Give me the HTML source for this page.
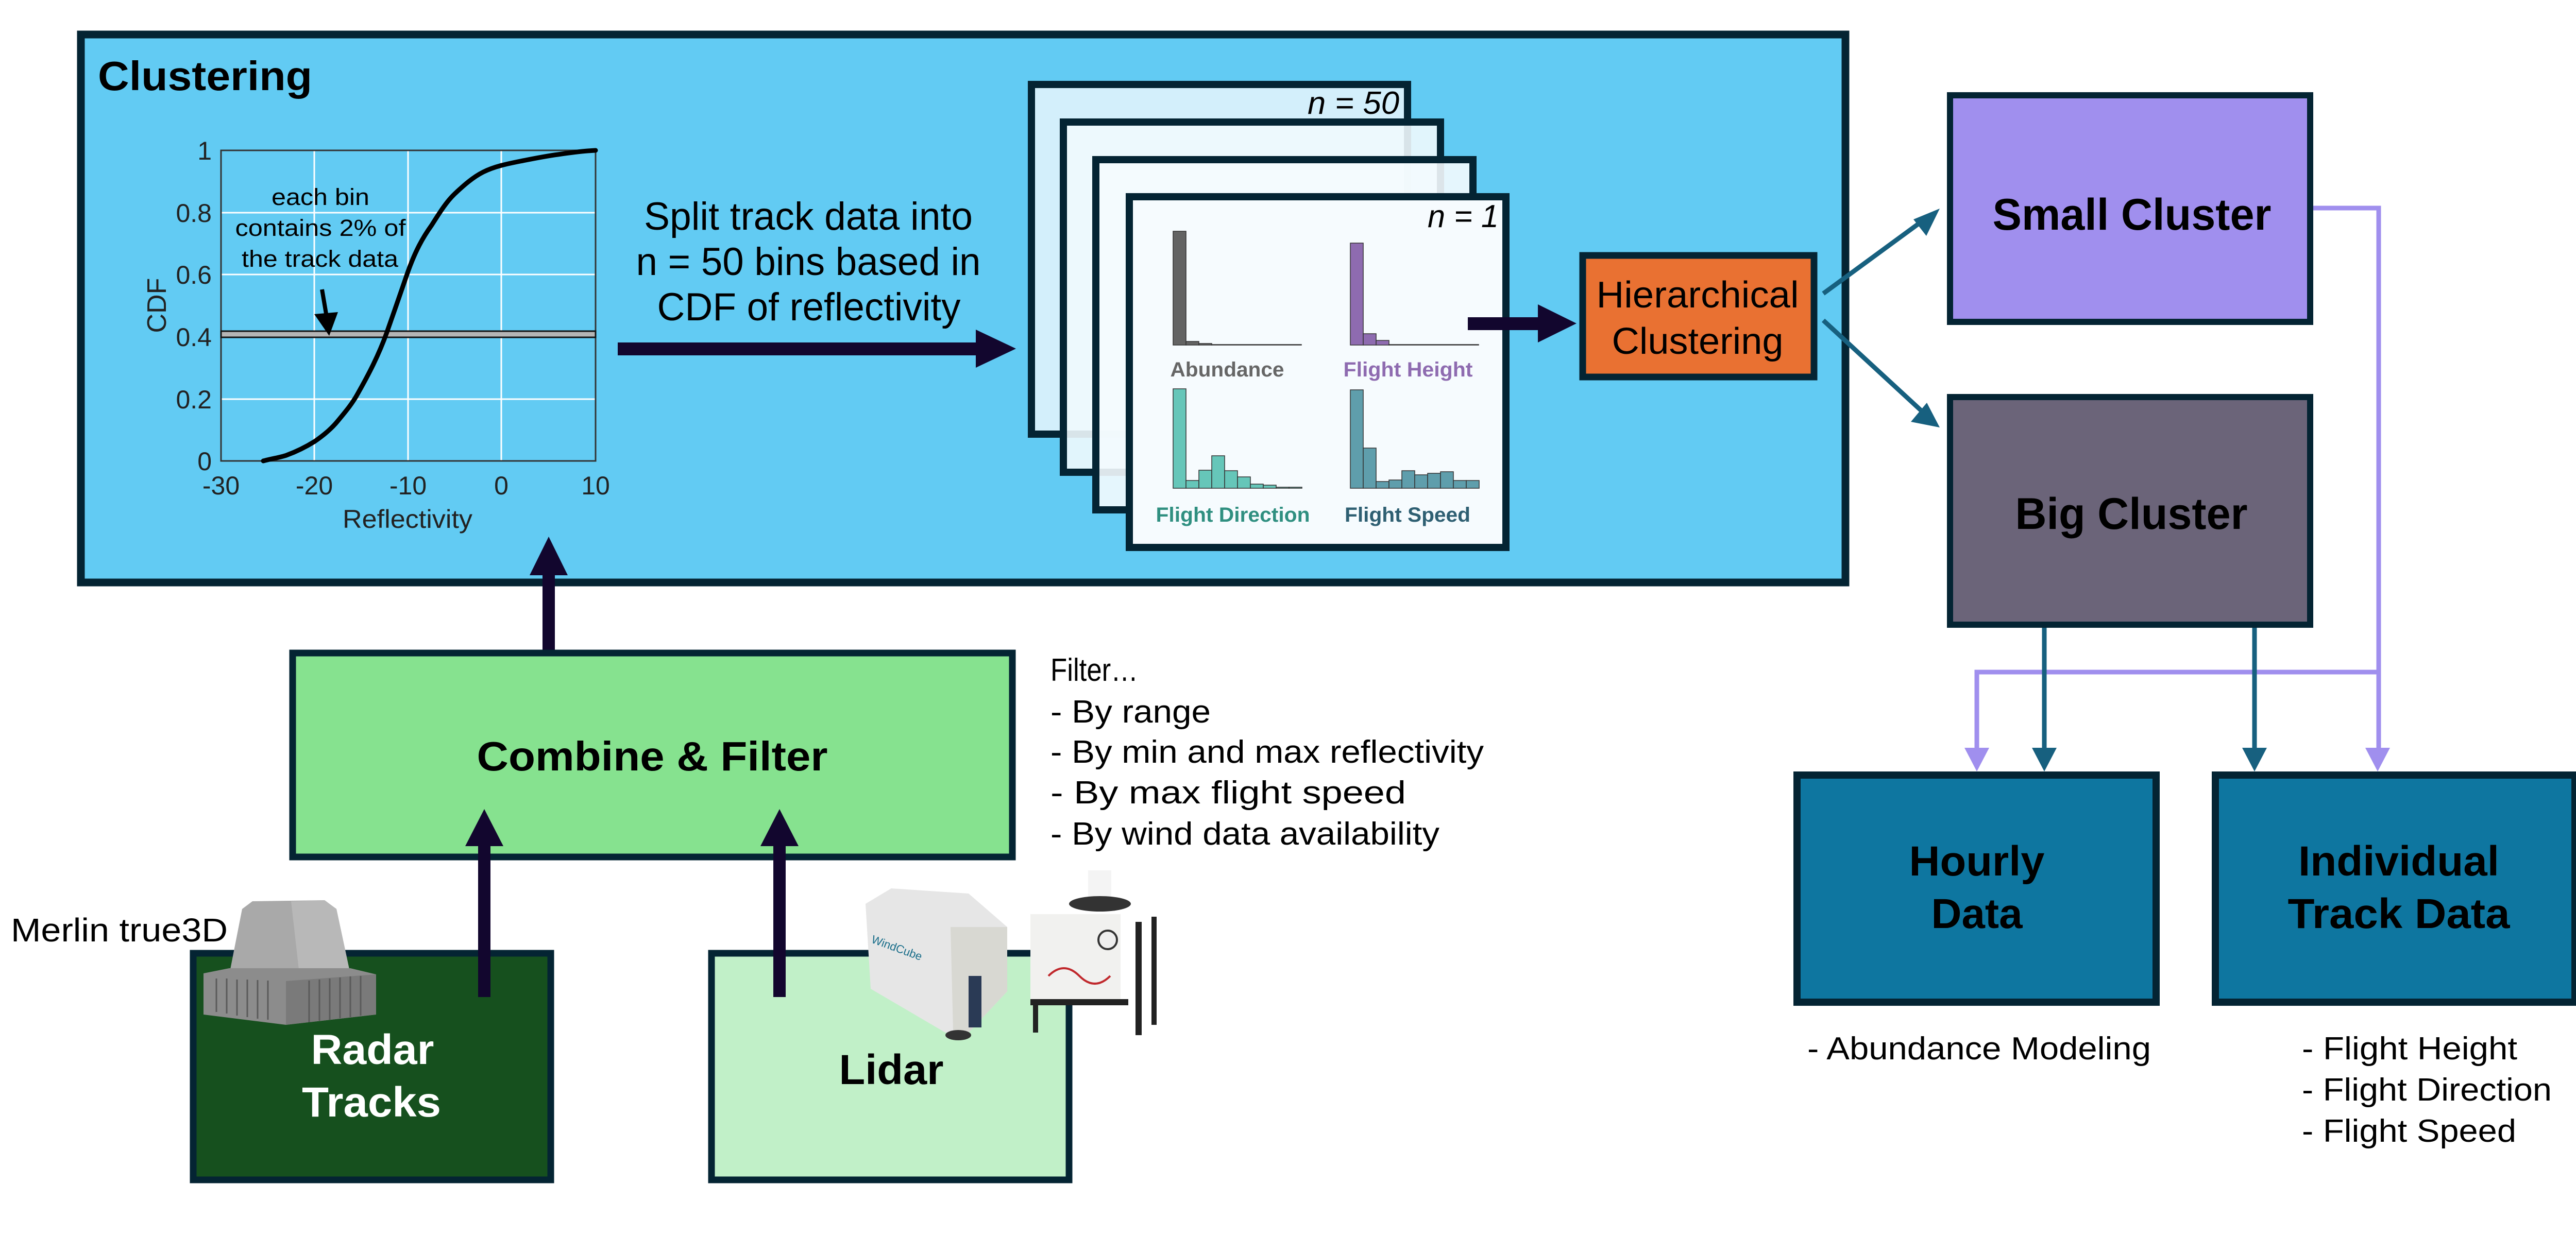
<!DOCTYPE html>
<html><head><meta charset="utf-8"><style>html,body{margin:0;padding:0;background:#fff}svg{display:block}text{font-family:"Liberation Sans",sans-serif}</style></head><body>
<svg width="5100" height="2400" viewBox="0 0 5100 2400" xmlns="http://www.w3.org/2000/svg">
<!-- Clustering box -->
<rect x="157" y="67" width="3425" height="1064" fill="#62cbf3" stroke="#042433" stroke-width="15"/>
<text x="190" y="175" font-size="80" font-weight="bold" textLength="416" lengthAdjust="spacingAndGlyphs">Clustering</text>
<!-- plot -->
<g stroke="#ffffff" stroke-width="3">
<line x1="610" y1="292" x2="610" y2="895"/><line x1="792" y1="292" x2="792" y2="895"/><line x1="973" y1="292" x2="973" y2="895"/>
<line x1="429" y1="413" x2="1156" y2="413"/><line x1="429" y1="533" x2="1156" y2="533"/><line x1="429" y1="775" x2="1156" y2="775"/>
</g>
<rect x="429" y="292" width="727" height="603" fill="none" stroke="#333" stroke-width="3"/>
<rect x="429" y="643" width="727" height="12" fill="#b5b5b5" stroke="#111" stroke-width="3"/>
<g font-size="50" fill="#222" text-anchor="end">
<text x="411" y="310">1</text><text x="411" y="431">0.8</text><text x="411" y="551">0.6</text><text x="411" y="672">0.4</text><text x="411" y="793">0.2</text><text x="411" y="913">0</text>
</g>
<g font-size="50" fill="#222" text-anchor="middle">
<text x="429" y="960">-30</text><text x="610" y="960">-20</text><text x="792" y="960">-10</text><text x="973" y="960">0</text><text x="1156" y="960">10</text>
<text x="791" y="1025" textLength="252" lengthAdjust="spacingAndGlyphs">Reflectivity</text>
</g>
<text transform="translate(322,593) rotate(-90)" font-size="52" fill="#222" text-anchor="middle">CDF</text>
<g font-size="45" text-anchor="middle">
<text x="622" y="398" textLength="190" lengthAdjust="spacingAndGlyphs">each bin</text>
<text x="622" y="458" textLength="331" lengthAdjust="spacingAndGlyphs">contains 2% of</text>
<text x="621" y="518" textLength="304" lengthAdjust="spacingAndGlyphs">the track data</text>
</g>
<line x1="625" y1="562" x2="634" y2="615" stroke="#000" stroke-width="8"/>
<polygon points="610,610 656,606 639,652" fill="#000"/>
<path fill="none" stroke="#000" stroke-width="9" stroke-linecap="round" stroke-linejoin="round" d="M511,895 C530,890 545,888 556,884 C575,877 595,867 611,857 C628,845 643,833 656,817 C670,800 683,785 694,765 C715,728 735,690 751,645 C765,605 778,568 792,527 C806,488 820,462 838,437 C855,410 868,390 883,376 C900,360 918,344 938,334 C960,323 985,318 1010,313 C1035,308 1060,303 1083,300 C1110,296 1135,293 1156,292"/>
<!-- split text + arrow -->
<g font-size="76" text-anchor="middle">
<text x="1569" y="446" textLength="638" lengthAdjust="spacingAndGlyphs">Split track data into</text>
<text x="1569" y="534" textLength="669" lengthAdjust="spacingAndGlyphs">n = 50 bins based in</text>
<text x="1570" y="622" textLength="589" lengthAdjust="spacingAndGlyphs">CDF of reflectivity</text>
</g>
<rect x="1199" y="665" width="700" height="25" fill="#12062e"/>
<polygon points="1894,640 1972,677 1894,714" fill="#12062e"/>
<!-- cards -->
<rect x="2002" y="164" width="730" height="679" fill="#d3effb" stroke="#042433" stroke-width="14"/>
<text x="2716" y="221" font-size="62" font-style="italic" text-anchor="end" textLength="178" lengthAdjust="spacingAndGlyphs">n = 50</text>
<rect x="2064" y="237" width="732" height="680" fill="#f0f9fd" fill-opacity="0.9" stroke="#042433" stroke-width="14"/>
<rect x="2127" y="310" width="732" height="680" fill="#f4fbfe" fill-opacity="0.9" stroke="#042433" stroke-width="14"/>
<rect x="2192" y="382" width="731" height="681" fill="#f6fbfe" stroke="#042433" stroke-width="14"/>
<text x="2909" y="441" font-size="62" font-style="italic" text-anchor="end" textLength="138" lengthAdjust="spacingAndGlyphs">n = 1</text>
<g stroke="#333" stroke-width="1.5">
<g fill="#636363"><rect x="2277" y="449" width="25" height="221"/><rect x="2302" y="663" width="25" height="7"/><rect x="2327" y="667" width="25" height="3"/><rect x="2352" y="669" width="174" height="1"/></g>
<g fill="#8e6bb0"><rect x="2621" y="472" width="25" height="198"/><rect x="2646" y="648" width="25" height="22"/><rect x="2671" y="661" width="25" height="9"/><rect x="2696" y="669" width="174" height="1"/></g>
<g fill="#66c6b9"><rect x="2277" y="755" width="25" height="193"/><rect x="2302" y="933" width="25" height="15"/><rect x="2327" y="913" width="25" height="35"/><rect x="2352" y="885" width="25" height="63"/><rect x="2377" y="914" width="25" height="34"/><rect x="2402" y="926" width="25" height="22"/><rect x="2427" y="940" width="25" height="8"/><rect x="2452" y="942" width="25" height="6"/><rect x="2477" y="946" width="25" height="2"/><rect x="2502" y="946" width="25" height="2"/></g>
<g fill="#5f9eac"><rect x="2621" y="757" width="25" height="191"/><rect x="2646" y="870" width="25" height="78"/><rect x="2671" y="935" width="25" height="13"/><rect x="2696" y="932" width="25" height="16"/><rect x="2721" y="914" width="25" height="34"/><rect x="2746" y="922" width="25" height="26"/><rect x="2771" y="919" width="25" height="29"/><rect x="2796" y="916" width="25" height="32"/><rect x="2821" y="933" width="25" height="15"/><rect x="2846" y="933" width="25" height="15"/></g>
</g>
<g font-size="40" font-weight="bold" text-anchor="middle">
<text x="2382" y="731" fill="#666" textLength="221" lengthAdjust="spacingAndGlyphs">Abundance</text>
<text x="2733" y="731" fill="#8e6bb0" textLength="251" lengthAdjust="spacingAndGlyphs">Flight Height</text>
<text x="2393" y="1013" fill="#2f8f80" textLength="299" lengthAdjust="spacingAndGlyphs">Flight Direction</text>
<text x="2732" y="1013" fill="#2e5f72" textLength="244" lengthAdjust="spacingAndGlyphs">Flight Speed</text>
</g>
<rect x="2849" y="616" width="140" height="25" fill="#12062e"/>
<polygon points="2985,591 3060,628 2985,665" fill="#12062e"/>
<!-- hierarchical -->
<rect x="3072" y="496" width="449" height="236" fill="#e97132" stroke="#042433" stroke-width="13"/>
<g font-size="72" text-anchor="middle">
<text x="3295" y="597" textLength="393" lengthAdjust="spacingAndGlyphs">Hierarchical</text>
<text x="3295" y="687" textLength="333" lengthAdjust="spacingAndGlyphs">Clustering</text>
</g>
<!-- right side -->
<line x1="3539" y1="570" x2="3745" y2="419" stroke="#17607f" stroke-width="9"/>
<polygon points="3765,405 3739,458 3714,426" fill="#17607f"/>
<line x1="3539" y1="622" x2="3745" y2="812" stroke="#17607f" stroke-width="9"/>
<polygon points="3765,830 3709,819 3740,782" fill="#17607f"/>
<rect x="3785" y="185" width="699" height="440" fill="#a08fee" stroke="#042433" stroke-width="12"/>
<text x="4138" y="446" font-size="86" font-weight="bold" text-anchor="middle" textLength="541" lengthAdjust="spacingAndGlyphs">Small Cluster</text>
<rect x="3785" y="771" width="699" height="442" fill="#6b6479" stroke="#042433" stroke-width="12"/>
<text x="4137" y="1027" font-size="86" font-weight="bold" text-anchor="middle" textLength="451" lengthAdjust="spacingAndGlyphs">Big Cluster</text>
<g fill="none" stroke-width="9">
<polyline points="4490,404 4617,404 4617,1460" stroke="#a08fee"/>
<polyline points="4617,1305 3837,1305 3837,1460" stroke="#a08fee"/>
<line x1="3968" y1="1219" x2="3968" y2="1460" stroke="#17607f"/>
<line x1="4376" y1="1219" x2="4376" y2="1460" stroke="#17607f"/>
</g>
<polygon points="3813,1452 3861,1452 3837,1498" fill="#a08fee"/>
<polygon points="4591,1452 4639,1452 4615,1498" fill="#a08fee"/>
<polygon points="3944,1452 3992,1452 3968,1498" fill="#17607f"/>
<polygon points="4352,1452 4400,1452 4376,1498" fill="#17607f"/>
<rect x="3488" y="1505" width="697" height="441" fill="#0e76a0" stroke="#042433" stroke-width="14"/>
<rect x="4300" y="1505" width="698" height="441" fill="#0e76a0" stroke="#042433" stroke-width="14"/>
<g font-size="82" font-weight="bold" text-anchor="middle">
<text x="3837" y="1700" textLength="263" lengthAdjust="spacingAndGlyphs">Hourly</text>
<text x="3837" y="1802" textLength="177" lengthAdjust="spacingAndGlyphs">Data</text>
<text x="4656" y="1700" textLength="390" lengthAdjust="spacingAndGlyphs">Individual</text>
<text x="4656" y="1802" textLength="431" lengthAdjust="spacingAndGlyphs">Track Data</text>
</g>
<g font-size="62">
<text x="3508" y="2057" textLength="667" lengthAdjust="spacingAndGlyphs">- Abundance Modeling</text>
<text x="4468" y="2057" textLength="418" lengthAdjust="spacingAndGlyphs">- Flight Height</text>
<text x="4468" y="2137" textLength="485" lengthAdjust="spacingAndGlyphs">- Flight Direction</text>
<text x="4468" y="2217" textLength="416" lengthAdjust="spacingAndGlyphs">- Flight Speed</text>
</g>
<!-- combine & filter -->
<rect x="1053" y="1117" width="24" height="230" fill="#12062e"/>
<polygon points="1028,1117 1102,1117 1065,1042" fill="#12062e"/>
<rect x="568" y="1268" width="1397" height="396" fill="#86e28f" stroke="#042433" stroke-width="13"/>
<text x="1266" y="1496" font-size="80" font-weight="bold" text-anchor="middle" textLength="681" lengthAdjust="spacingAndGlyphs">Combine &amp; Filter</text>
<g font-size="62">
<text x="2039" y="1322" textLength="170" lengthAdjust="spacingAndGlyphs">Filter…</text>
<text x="2039" y="1403" textLength="311" lengthAdjust="spacingAndGlyphs">- By range</text>
<text x="2039" y="1481" textLength="841" lengthAdjust="spacingAndGlyphs">- By min and max reflectivity</text>
<text x="2039" y="1560" textLength="690" lengthAdjust="spacingAndGlyphs">- By max flight speed</text>
<text x="2039" y="1640" textLength="755" lengthAdjust="spacingAndGlyphs">- By wind data availability</text>
</g>
<rect x="375" y="1851" width="694" height="440" fill="#16501e" stroke="#042433" stroke-width="13"/>
<rect x="1381" y="1851" width="694" height="440" fill="#c1f0c8" stroke="#042433" stroke-width="13"/>
<rect x="928" y="1640" width="24" height="296" fill="#12062e"/>
<polygon points="903,1643 977,1643 940,1571" fill="#12062e"/>
<rect x="1501" y="1640" width="24" height="296" fill="#12062e"/>
<polygon points="1476,1643 1550,1643 1513,1571" fill="#12062e"/>
<text x="21" y="1828" font-size="64" textLength="421" lengthAdjust="spacingAndGlyphs">Merlin true3D</text>
<!-- radar image -->
<polygon points="470,1765 490,1750 630,1748 653,1765 678,1882 447,1882" fill="#a9a9a9"/>
<polygon points="565,1750 630,1748 653,1765 678,1882 580,1882" fill="#b8b8b8"/>
<polygon points="395,1890 445,1880 680,1880 730,1892 730,1970 555,1990 395,1970" fill="#8c8c8c"/>
<polygon points="555,1905 730,1892 730,1970 555,1990" fill="#7a7a7a"/>
<g stroke="#5a5a5a" stroke-width="3">
<line x1="420" y1="1900" x2="420" y2="1965"/><line x1="440" y1="1900" x2="440" y2="1968"/><line x1="460" y1="1902" x2="460" y2="1972"/><line x1="480" y1="1902" x2="480" y2="1975"/><line x1="500" y1="1903" x2="500" y2="1978"/><line x1="520" y1="1904" x2="520" y2="1980"/>
<line x1="600" y1="1904" x2="600" y2="1985"/><line x1="620" y1="1902" x2="620" y2="1982"/><line x1="640" y1="1900" x2="640" y2="1980"/><line x1="660" y1="1898" x2="660" y2="1977"/><line x1="680" y1="1896" x2="680" y2="1975"/><line x1="700" y1="1895" x2="700" y2="1972"/>
</g>
<g font-size="82" font-weight="bold" text-anchor="middle">
<text x="723" y="2066" fill="#fff" textLength="239" lengthAdjust="spacingAndGlyphs">Radar</text>
<text x="721" y="2168" fill="#fff" textLength="270" lengthAdjust="spacingAndGlyphs">Tracks</text>
<text x="1730" y="2105" textLength="203" lengthAdjust="spacingAndGlyphs">Lidar</text>
</g>
<!-- lidar images -->
<polygon points="1680,1755 1730,1725 1880,1735 1955,1800 1955,1925 1880,2005 1835,2005 1690,1920" fill="#e6e6e6"/>
<polygon points="1845,1800 1955,1800 1955,1925 1880,2005 1850,2000" fill="#d8d8d2"/>
<rect x="1880" y="1895" width="25" height="100" fill="#2a3a55"/>
<text x="1690" y="1830" font-size="22" fill="#1a6e8a" transform="rotate(20 1690 1830)">WindCube</text>
<ellipse cx="1860" cy="2010" rx="25" ry="10" fill="#333"/>
<rect x="2112" y="1690" width="45" height="60" fill="#f4f4f4"/>
<ellipse cx="2135" cy="1755" rx="60" ry="15" fill="#333"/>
<rect x="2000" y="1775" width="175" height="170" fill="#f1f1ef"/>
<line x1="2210" y1="1790" x2="2210" y2="2010" stroke="#222" stroke-width="12"/>
<line x1="2240" y1="1780" x2="2240" y2="1990" stroke="#222" stroke-width="10"/>
<line x1="2010" y1="1940" x2="2010" y2="2005" stroke="#222" stroke-width="10"/>
<rect x="2000" y="1940" width="190" height="12" fill="#222"/>
<path d="M2035,1895 q30,-30 60,0 t60,0" stroke="#c0282c" stroke-width="4" fill="none"/>
<circle cx="2150" cy="1825" r="18" fill="#eee" stroke="#333" stroke-width="4"/>
</svg>
</body></html>
